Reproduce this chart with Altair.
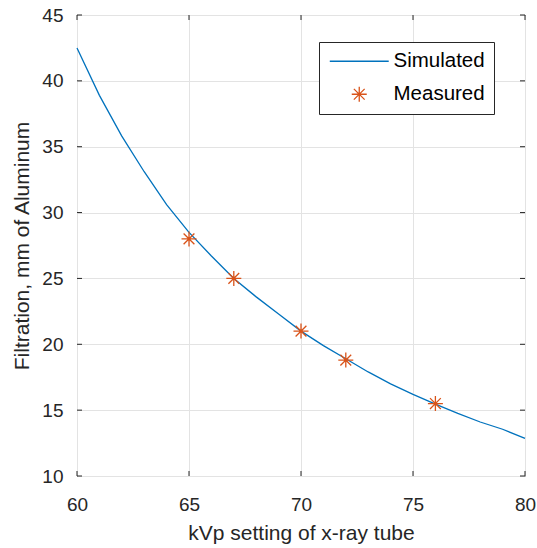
import altair as alt
import pandas as pd

# Simulated curve
sim_kvp = [60, 61, 62, 63, 64, 65, 66, 67, 68, 69, 70,
           71, 72, 73, 74, 75, 76, 77, 78, 79, 80]
sim_filt = [42.5, 38.9, 35.8, 33.1, 30.6, 28.5, 26.7, 25.0, 23.6, 22.3, 21.0,
            19.9, 18.9, 17.9, 17.0, 16.2, 15.45, 14.75, 14.1, 13.55, 12.85]

# Measured points
meas_kvp = [65, 67, 70, 72, 76]
meas_filt = [28.0, 25.0, 21.0, 18.8, 15.5]

x_ticks = [60, 65, 70, 75, 80]
y_ticks = [10, 15, 20, 25, 30, 35, 40, 45]

series = ["Simulated", "Measured"]
colors = ["#0072BD", "#D95319"]
STAR = "M0,-1L0,1M-1,0L1,0M-0.72,-0.72L0.72,0.72M-0.72,0.72L0.72,-0.72"
LINE_SYM = "M-3.93,0L3.93,0"

sim_df = pd.DataFrame({"kvp": sim_kvp, "filt": sim_filt, "series": "Simulated"})
meas_df = pd.DataFrame({"kvp": meas_kvp, "filt": meas_filt, "series": "Measured"})
xt_df = pd.DataFrame({"v": x_ticks})
yt_df = pd.DataFrame({"v": y_ticks})

W, H = 448, 461
AX = "#262626"
FONT = "Liberation Sans"

xscale = alt.Scale(domain=[60, 80], nice=False, zero=False)
yscale = alt.Scale(domain=[10, 45], nice=False, zero=False)

legend = alt.Legend(
    title=None, orient="none", legendX=242, legendY=27,
    fillColor="white", strokeColor=AX, padding=9,
    labelFontSize=20.5, labelFont=FONT, labelColor="black",
    symbolOffset=21, labelOffset=24, rowPadding=12,
    symbolStrokeWidth=1.3, symbolSize=225,
)
color_enc = alt.Color("series:N", scale=alt.Scale(domain=series, range=colors), legend=legend)
shape_enc = alt.Shape("series:N", scale=alt.Scale(domain=series, range=[LINE_SYM, STAR]), legend=legend)

line = alt.Chart(sim_df).mark_line(strokeWidth=1.3).encode(
    x=alt.X("kvp:Q", scale=xscale,
            axis=alt.Axis(values=x_ticks, title="kVp setting of x-ray tube",
                          grid=True, ticks=False, tickSize=0, domain=False,
                          labelFlush=False, labelPadding=19, titlePadding=8, format="d")),
    y=alt.Y("filt:Q", scale=yscale,
            axis=alt.Axis(values=y_ticks, title="Filtration, mm of Aluminum",
                          grid=True, ticks=False, tickSize=0, domain=False,
                          labelFlush=False, labelPadding=14, titlePadding=9, format="d")),
    color=color_enc,
)

points = alt.Chart(meas_df).mark_point(filled=False, strokeWidth=1.3, opacity=1, size=225).encode(
    x=alt.X("kvp:Q", scale=xscale),
    y=alt.Y("filt:Q", scale=yscale),
    color=color_enc,
    shape=shape_enc,
)

tick_style = dict(color=AX, strokeWidth=1)
bt = alt.Chart(xt_df).mark_rule(**tick_style).encode(
    x=alt.X("v:Q", scale=xscale), y=alt.value(H), y2=alt.value(H - 5))
tt = alt.Chart(xt_df).mark_rule(**tick_style).encode(
    x=alt.X("v:Q", scale=xscale), y=alt.value(0), y2=alt.value(5))
lt = alt.Chart(yt_df).mark_rule(**tick_style).encode(
    y=alt.Y("v:Q", scale=yscale), x=alt.value(0), x2=alt.value(5))
rt = alt.Chart(yt_df).mark_rule(**tick_style).encode(
    y=alt.Y("v:Q", scale=yscale), x=alt.value(W), x2=alt.value(W - 5))

chart = alt.layer(bt, tt, lt, rt, line, points).properties(
    width=W, height=H,
    autosize=alt.AutoSizeParams(type="none"),
    padding={"left": 77, "top": 15, "right": 12, "bottom": 72},
    background="white",
).configure_view(
    stroke=AX, strokeWidth=1,
).configure_axis(
    gridColor="#e3e3e3", gridWidth=1, gridOpacity=1,
    labelFont=FONT, labelFontSize=19, labelColor=AX,
    titleFont=FONT, titleFontSize=21, titleColor=AX, titleFontWeight="normal",
)

chart.save("out.html", embed_options={"renderer": "svg", "actions": False})
